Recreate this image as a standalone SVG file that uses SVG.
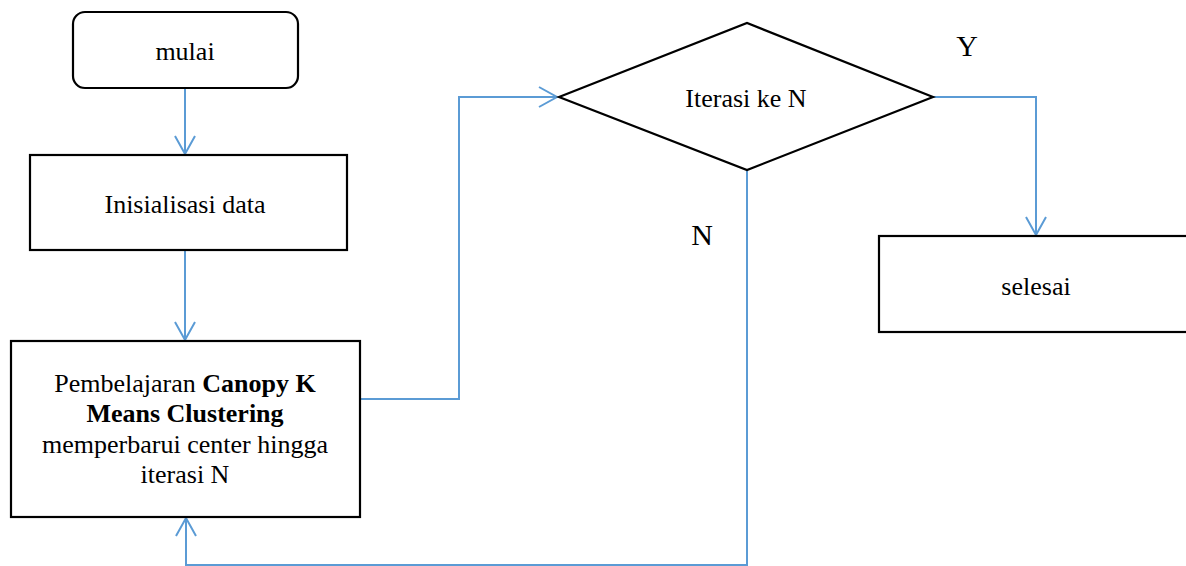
<svg xmlns="http://www.w3.org/2000/svg" width="1186" height="566" viewBox="0 0 1186 566">
<defs>
<marker id="arr" markerWidth="24" markerHeight="24" viewBox="-20 -12 24 24" refX="0" refY="0" orient="auto" markerUnits="userSpaceOnUse">
<path d="M-18,-10 L0,0 L-18,10" fill="none" stroke="#5B9BD5" stroke-width="2"/>
</marker>
<style>
.box{fill:#fff;stroke:#000;stroke-width:2.2}
.con{fill:none;stroke:#5B9BD5;stroke-width:2}
text{font-family:"Liberation Serif","Times New Roman",serif;fill:#000;text-anchor:middle}
.t{font-size:26px}
.lbl{font-size:30px}
</style>
</defs>
<rect width="1186" height="566" fill="#fff"/>
<g id="connectors">
<path class="con" d="M185,88 L185,154" marker-end="url(#arr)"/>
<path class="con" d="M185,250 L185,340" marker-end="url(#arr)"/>
<path class="con" d="M360,399 L459,399 L459,97 L557,97" marker-end="url(#arr)"/>
<path class="con" d="M933,97 L1036,97 L1036,235" marker-end="url(#arr)"/>
<path class="con" d="M747,170 L747,565 L186,565 L186,518" marker-end="url(#arr)"/>
</g>
<g id="mulai">
<rect class="box" x="73" y="12" width="225" height="76" rx="12"/>
<text class="t" x="185" y="60">mulai</text>
</g>
<g id="inisialisasi">
<rect class="box" x="30" y="155" width="317" height="95"/>
<text class="t" x="185" y="213">Inisialisasi data</text>
</g>
<g id="pembelajaran">
<rect class="box" x="11" y="341" width="349" height="176"/>
<text class="t" x="185" y="392">Pembelajaran <tspan font-weight="bold">Canopy K</tspan></text>
<text class="t" x="185" y="422" font-weight="bold">Means Clustering</text>
<text class="t" x="185" y="453">memperbarui center hingga</text>
<text class="t" x="185" y="483">iterasi N</text>
</g>
<g id="iterasi">
<polygon class="box" points="559,97 747,23 933,97 747,170"/>
<text class="t" x="746" y="107">Iterasi ke N</text>
</g>
<g id="selesai">
<rect class="box" x="879" y="236" width="320" height="96"/>
<text class="t" x="1036" y="295">selesai</text>
</g>
<g id="labels">
<text class="lbl" x="967" y="56">Y</text>
<text class="lbl" x="702" y="245">N</text>
</g>
</svg>
